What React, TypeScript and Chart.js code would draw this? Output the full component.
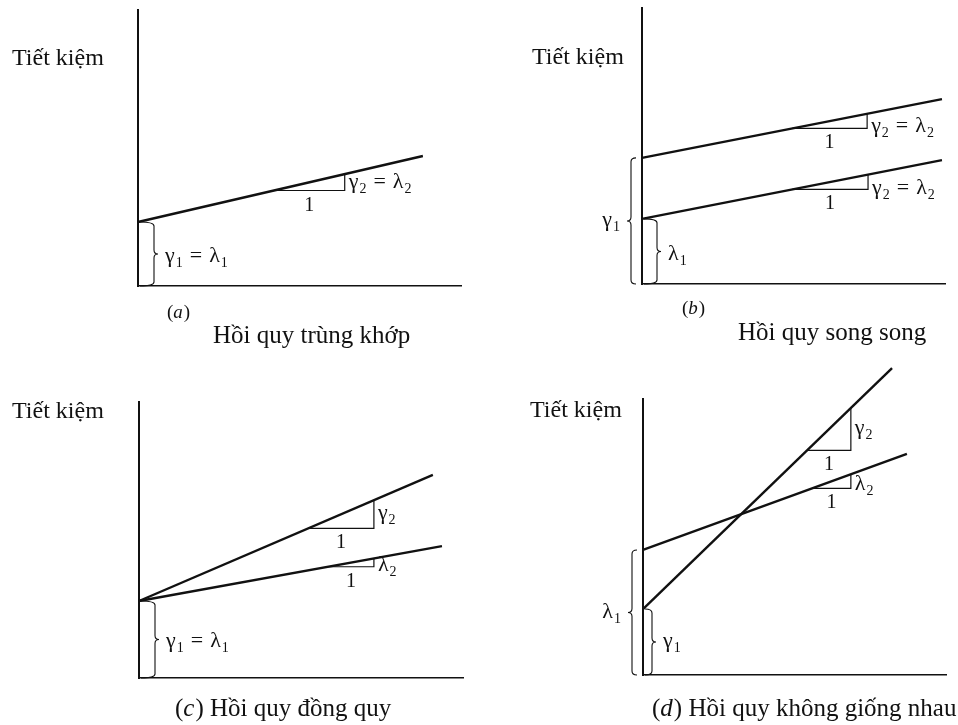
import React, { useEffect, useRef } from "react";
import { Chart, registerables } from "chart.js";

Chart.register(...registerables);

type Pt = { x: number; y: number };
type Tok = [string, string?];

// Every panel uses the same 0–10 frame for both axes.
const axisMin = 0;
const axisMax = 10;

// (a) Hồi quy trùng khớp
const aLine: Pt[] = [{ x: 0, y: 2.32 }, { x: 8.82, y: 4.71 }];
const aSlope: Pt[] = [{ x: 4.2, y: 3.46 }, { x: 6.4, y: 3.46 }, { x: 6.4, y: 4.05 }];

// (b) Hồi quy song song
const bUpper: Pt[] = [{ x: 0, y: 4.57 }, { x: 9.9, y: 6.7 }];
const bLower: Pt[] = [{ x: 0, y: 2.36 }, { x: 9.9, y: 4.49 }];
const bUpperSlope: Pt[] = [{ x: 4.95, y: 5.64 }, { x: 7.43, y: 5.64 }, { x: 7.43, y: 6.17 }];
const bLowerSlope: Pt[] = [{ x: 4.95, y: 3.43 }, { x: 7.46, y: 3.43 }, { x: 7.46, y: 3.97 }];

// (c) Hồi quy đồng quy
const cSteep: Pt[] = [{ x: 0, y: 2.79 }, { x: 9.07, y: 7.36 }];
const cFlat: Pt[] = [{ x: 0, y: 2.79 }, { x: 9.35, y: 4.78 }];
const cSteepSlope: Pt[] = [{ x: 5.22, y: 5.42 }, { x: 7.25, y: 5.42 }, { x: 7.25, y: 6.44 }];
const cFlatSlope: Pt[] = [{ x: 5.83, y: 4.03 }, { x: 7.25, y: 4.03 }, { x: 7.25, y: 4.33 }];

// (d) Hồi quy không giống nhau
const dSteep: Pt[] = [{ x: 0, y: 2.39 }, { x: 8.22, y: 11.12 }];
const dFlat: Pt[] = [{ x: 0, y: 4.53 }, { x: 8.71, y: 8.01 }];
const dSteepSlope: Pt[] = [{ x: 5.41, y: 8.14 }, { x: 6.86, y: 8.14 }, { x: 6.86, y: 9.68 }];
const dFlatSlope: Pt[] = [{ x: 5.58, y: 6.76 }, { x: 6.86, y: 6.76 }, { x: 6.86, y: 7.27 }];

// Text
const yTitle = "Tiết kiệm";
const unitRun = "1";
const eqSlope: Tok[] = [["γ", "2"], ["="], ["λ", "2"]];
const eqIntercept: Tok[] = [["γ", "1"], ["="], ["λ", "1"]];
const gammaSlope: Tok[] = [["γ", "2"]];
const lambdaSlope: Tok[] = [["λ", "2"]];
const gammaIntercept: Tok[] = [["γ", "1"]];
const lambdaIntercept: Tok[] = [["λ", "1"]];

const SERIF = '"Liberation Serif", "Times New Roman", serif';
const INK = "#111";
const MATH_SIZE = 22;

interface Brace {
  top: number; // data value of the upper end (lower end is 0)
  dx: number; // spine offset from the y axis, px
  dir: 1 | -1; // 1: tip points right, -1: tip points left
  hook: number;
  label: Tok[];
  labelDy: number;
}

interface CaptionPart {
  t: string;
  italic?: boolean;
}

interface Caption {
  parts: CaptionPart[];
  x: number;
  y: number;
  size: number;
}

interface PanelSpec {
  left: number;
  top: number;
  w: number;
  h: number;
  pad: { left: number; top: number; right: number; bottom: number };
  lines: Pt[][];
  steps: Pt[][];
  stepLabels: Tok[][];
  stepDy: number[];
  braces: Brace[];
  title: { x: number; y: number };
  captions: Caption[];
}

const panels: PanelSpec[] = [
  {
    left: 0, top: 0, w: 479, h: 362,
    pad: { left: 138, top: 10, right: 18, bottom: 76 },
    lines: [aLine],
    steps: [aSlope],
    stepLabels: [eqSlope],
    stepDy: [6],
    braces: [{ top: aLine[0].y, dx: 16, dir: 1, hook: 14, label: eqIntercept, labelDy: 8 }],
    title: { x: 12, y: 65 },
    captions: [
      { parts: [{ t: "(" }, { t: "a", italic: true }, { t: ")" }], x: 167, y: 318, size: 19 },
      { parts: [{ t: "Hồi quy trùng khớp" }], x: 213, y: 343, size: 25 },
    ],
  },
  {
    left: 479, top: 0, w: 479, h: 362,
    pad: { left: 163, top: 8, right: 13, bottom: 78 },
    lines: [bUpper, bLower],
    steps: [bUpperSlope, bLowerSlope],
    stepLabels: [eqSlope, eqSlope],
    stepDy: [11, 12],
    braces: [
      { top: bUpper[0].y, dx: -11, dir: -1, hook: 5, label: gammaIntercept, labelDy: 5 },
      { top: bLower[0].y, dx: 15, dir: 1, hook: 13, label: lambdaIntercept, labelDy: 9 },
    ],
    title: { x: 53, y: 64 },
    captions: [
      { parts: [{ t: "(" }, { t: "b", italic: true }, { t: ")" }], x: 203, y: 314, size: 19 },
      { parts: [{ t: "Hồi quy song song" }], x: 259, y: 340, size: 25 },
    ],
  },
  {
    left: 0, top: 362, w: 479, h: 363,
    pad: { left: 139, top: 40, right: 16, bottom: 47 },
    lines: [cSteep, cFlat],
    steps: [cSteepSlope, cFlatSlope],
    stepLabels: [gammaSlope, lambdaSlope],
    stepDy: [5, 8],
    braces: [{ top: cSteep[0].y, dx: 16, dir: 1, hook: 14, label: eqIntercept, labelDy: 8 }],
    title: { x: 12, y: 56 },
    captions: [
      {
        parts: [{ t: "(" }, { t: "c", italic: true }, { t: ") Hồi quy đồng quy" }],
        x: 175, y: 354, size: 25,
      },
    ],
  },
  {
    left: 479, top: 362, w: 479, h: 363,
    pad: { left: 164, top: 37, right: 12, bottom: 50 },
    lines: [dSteep, dFlat],
    steps: [dSteepSlope, dFlatSlope],
    stepLabels: [gammaSlope, lambdaSlope],
    stepDy: [5, 9],
    braces: [
      { top: dFlat[0].y, dx: -11, dir: -1, hook: 5, label: lambdaIntercept, labelDy: 6 },
      { top: dSteep[0].y, dx: 9, dir: 1, hook: 7, label: gammaIntercept, labelDy: 5 },
    ],
    title: { x: 51, y: 55 },
    captions: [
      {
        parts: [{ t: "(" }, { t: "d", italic: true }, { t: ") Hồi quy không giống nhau" }],
        x: 173, y: 354, size: 25,
      },
    ],
  },
];

function mathWidth(ctx: CanvasRenderingContext2D, toks: Tok[], size: number, gap: number) {
  const sub = Math.round(size * 0.65);
  let w = 0;
  toks.forEach(([b, s], i) => {
    ctx.font = `${size}px ${SERIF}`;
    w += ctx.measureText(b).width;
    if (s) {
      ctx.font = `${sub}px ${SERIF}`;
      w += ctx.measureText(s).width + 1;
    }
    if (i < toks.length - 1) w += gap;
  });
  return w;
}

// Symbols with subscripts, e.g. γ₂ = λ₂
function drawMath(
  ctx: CanvasRenderingContext2D,
  toks: Tok[],
  x: number,
  y: number,
  align: "left" | "right",
  size = MATH_SIZE,
  gap = 7
) {
  const sub = Math.round(size * 0.65);
  let cx = align === "left" ? x : x - mathWidth(ctx, toks, size, gap);
  ctx.textAlign = "left";
  ctx.textBaseline = "alphabetic";
  toks.forEach(([b, s]) => {
    ctx.font = `${size}px ${SERIF}`;
    ctx.fillText(b, cx, y);
    cx += ctx.measureText(b).width;
    if (s) {
      ctx.font = `${sub}px ${SERIF}`;
      ctx.fillText(s, cx + 1, y + 5);
      cx += ctx.measureText(s).width + 1;
    }
    cx += gap;
  });
}

function drawBrace(
  ctx: CanvasRenderingContext2D,
  sx: number,
  yT: number,
  yB: number,
  dir: number,
  hook: number
) {
  const r = 4;
  const tip = 4;
  const ym = (yT + yB) / 2;
  ctx.beginPath();
  ctx.moveTo(sx - dir * hook, yT);
  ctx.quadraticCurveTo(sx, yT, sx, yT + r);
  ctx.lineTo(sx, ym - r);
  ctx.quadraticCurveTo(sx, ym, sx + dir * tip, ym);
  ctx.quadraticCurveTo(sx, ym, sx, ym + r);
  ctx.lineTo(sx, yB - r);
  ctx.quadraticCurveTo(sx, yB, sx - dir * hook, yB);
  ctx.stroke();
}

function decorPlugin(spec: PanelSpec) {
  return {
    id: "panelDecor",
    afterDatasetsDraw(chart: Chart) {
      const ctx = chart.ctx;
      const xs = chart.scales.x;
      const ys = chart.scales.y;
      ctx.save();
      ctx.strokeStyle = INK;
      ctx.fillStyle = INK;
      ctx.lineWidth = 1.1;

      // Intercept braces
      const ax = xs.getPixelForValue(axisMin);
      spec.braces.forEach((b) => {
        const yT = ys.getPixelForValue(b.top);
        const yB = ys.getPixelForValue(axisMin);
        const sx = ax + b.dx;
        drawBrace(ctx, sx, yT, yB, b.dir, b.hook);
        const ym = (yT + yB) / 2;
        if (b.dir > 0) drawMath(ctx, b.label, sx + 11, ym + b.labelDy, "left");
        else drawMath(ctx, b.label, sx - 11, ym + b.labelDy, "right");
      });

      // Slope triangle labels
      spec.steps.forEach((s, i) => {
        const hx = (xs.getPixelForValue(s[0].x) + xs.getPixelForValue(s[1].x)) / 2;
        const hy = ys.getPixelForValue(s[1].y);
        ctx.font = `20px ${SERIF}`;
        ctx.textAlign = "center";
        ctx.textBaseline = "alphabetic";
        ctx.fillText(unitRun, hx, hy + 20);
        const vx = xs.getPixelForValue(s[2].x);
        const vm = (ys.getPixelForValue(s[1].y) + ys.getPixelForValue(s[2].y)) / 2;
        drawMath(ctx, spec.stepLabels[i], vx + 4, vm + spec.stepDy[i], "left");
      });

      // Axis title
      ctx.font = `24px ${SERIF}`;
      ctx.textAlign = "left";
      ctx.textBaseline = "alphabetic";
      ctx.fillText(yTitle, spec.title.x, spec.title.y);

      // Captions
      spec.captions.forEach((c) => {
        let cx = c.x;
        c.parts.forEach((p) => {
          ctx.font = `${p.italic ? "italic " : ""}${c.size}px ${SERIF}`;
          ctx.fillText(p.t, cx, c.y);
          cx += ctx.measureText(p.t).width + (p.italic ? 1 : 0);
        });
      });
      ctx.restore();
    },
  };
}

function Panel({ spec }: { spec: PanelSpec }) {
  const ref = useRef<HTMLCanvasElement>(null);

  useEffect(() => {
    const canvas = ref.current;
    if (!canvas) return;
    const axisOpts = (width: number) => ({
      type: "linear" as const,
      min: axisMin,
      max: axisMax,
      grid: { display: false, drawTicks: false },
      ticks: { display: false },
      border: { display: true, color: INK, width },
    });
    const chart = new Chart(canvas, {
      type: "line",
      data: {
        datasets: [
          ...spec.lines.map((d) => ({
            data: d,
            borderColor: INK,
            borderWidth: 2.4,
            pointRadius: 0,
            tension: 0,
            clip: false as const,
          })),
          ...spec.steps.map((d) => ({
            data: d,
            borderColor: INK,
            borderWidth: 1.2,
            pointRadius: 0,
            tension: 0,
            clip: false as const,
          })),
        ],
      },
      options: {
        responsive: false,
        animation: false,
        events: [],
        parsing: false,
        layout: { padding: spec.pad },
        plugins: { legend: { display: false }, tooltip: { enabled: false } },
        scales: { x: axisOpts(1.6), y: axisOpts(2) },
      },
      plugins: [decorPlugin(spec)],
    });
    return () => chart.destroy();
  }, [spec]);

  return (
    <canvas
      ref={ref}
      width={spec.w}
      height={spec.h}
      style={{ position: "absolute", left: spec.left, top: spec.top, width: spec.w, height: spec.h }}
    />
  );
}

export default function App() {
  return (
    <div style={{ position: "fixed", left: 0, top: 0, width: 958, height: 725, background: "#fff" }}>
      {panels.map((p, i) => (
        <Panel key={i} spec={p} />
      ))}
    </div>
  );
}
